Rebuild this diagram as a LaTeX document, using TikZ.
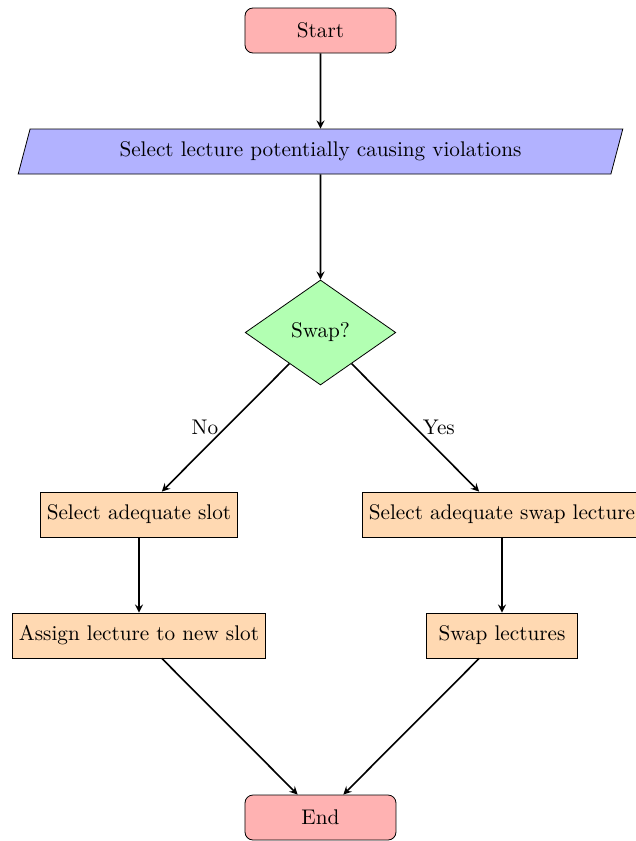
\documentclass[tikz,border=0pt]{standalone}
\usepackage{tikz}
\usetikzlibrary{
    arrows,
    shapes.geometric
}

\tikzset{
    startstop/.style={rectangle, rounded corners, minimum width=75.5pt, minimum height=22.5pt, draw=black, fill=red!30},
    io/.style={trapezium, trapezium left angle=70, trapezium right angle=110, trapezium stretches body, minimum width=302.3pt, minimum height=22.5pt, draw=black, fill=blue!30},
    decision/.style={diamond, aspect=1.43, minimum width=75.3pt, minimum height=52.5pt, draw=black, fill=green!30},
    process/.style={rectangle, minimum width=75.5pt, minimum height=22.5pt, draw=black, fill=orange!30},
    arrow/.style={thick, ->, >=stealth}
}

\begin{document}
\begin{tikzpicture}[node distance=91pt, auto, every node/.style={font=\fontsize{10.6}{12.7}\selectfont}]
            \useasboundingbox (-160.25pt,15.25pt) rectangle (157.75pt,-405.25pt);
            \node (start) [startstop] {Start};
            \node (pick) [io, node distance=60.5pt, below of=start] {Select lecture potentially causing violations};
            \node (dec) [decision, node distance=90.5pt, below of=pick] {Swap?};
            \node (slot) [process, below of=dec, xshift=-90.75pt] {Select adequate slot};
            \node (other) [process, below of=dec, xshift=90.75pt] {Select adequate swap lecture};
            \node (assign) [process, node distance=60.5pt, below of=slot] {Assign lecture to new slot};
            \node (swap) [process, node distance=60.5pt, below of=other] {Swap lectures};
            \node (stop) [startstop, below of=assign, xshift=90.75pt] {End};
            \draw[arrow] (start) -- (pick);
            \draw[arrow] (pick) -- (dec);
            \draw[arrow] (dec) -- node[left] {No} (slot);
            \draw[arrow] (dec) -- node[right] {Yes} (other);
            \draw[arrow] (slot) -- (assign);
            \draw[arrow] (other) -- (swap);
            \draw[arrow] (assign) -- (stop);
            \draw[arrow] (swap) -- (stop);
        \end{tikzpicture}
\end{document}
